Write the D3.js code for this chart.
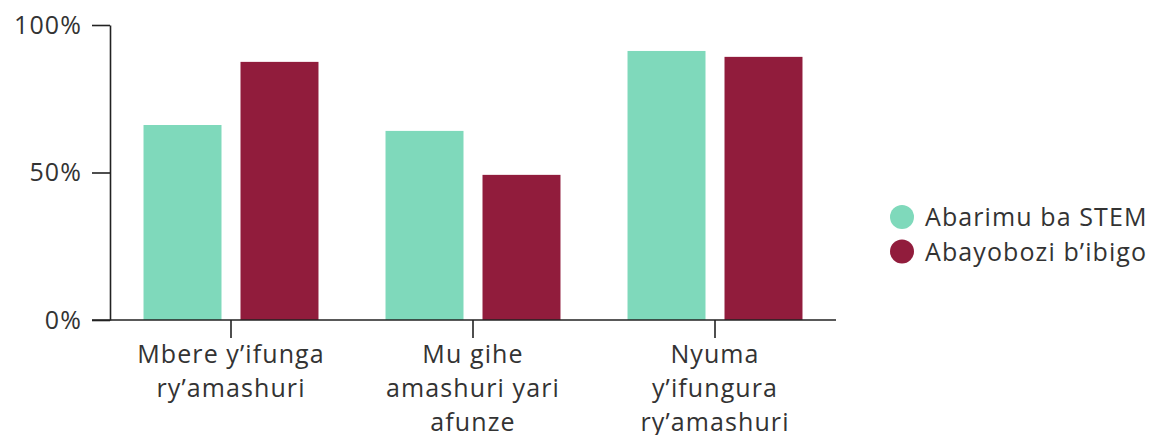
<!DOCTYPE html>
<html>
<head>
<meta charset="utf-8">
<script src="https://cdn.jsdelivr.net/npm/d3@7"></script>
<style>
  body { margin: 0; background: #fff; }
  text { font-family: "Open Sans", "Noto Sans", sans-serif; fill: #333; letter-spacing: 1.1px; }
</style>
</head>
<body>
<div id="chart"></div>
<script>
// categories, wrapped the way the reference shows them
const categories = ["before", "during", "after"];
const categoryLines = [
  ["Mbere y’ifunga", "ry’amashuri"],
  ["Mu gihe", "amashuri yari", "afunze"],
  ["Nyuma", "y’ifungura", "ry’amashuri"]
];
const seriesNames = ["Abarimu ba STEM", "Abayobozi b’ibigo"];
const seriesColors = ["#7fd9bb", "#911c3c"];
const stemValues = [66.1, 64.1, 91.2];
const leaderValues = [87.5, 49.2, 89.2];
const yTicks = [0, 50, 100];

const width = 1158, height = 435;
const x0 = 110, x1 = 836, yTop = 25, yBottom = 320;
const fontSize = 25;

const svg = d3.select("#chart").append("svg")
  .attr("width", width)
  .attr("height", height);

const x = d3.scaleBand()
  .domain(categories)
  .range([x0, x1])
  .paddingInner(0.277)
  .paddingOuter(0.1385);

const xInner = d3.scaleBand()
  .domain([0, 1])
  .range([0, x.bandwidth()])
  .paddingInner(0.196);

const y = d3.scaleLinear()
  .domain([0, 100])
  .range([yBottom, yTop]);

// BARS

const rows = categories.map((c, i) => ({ cat: c, values: [stemValues[i], leaderValues[i]] }));

svg.append("g").selectAll("g")
  .data(rows)
  .join("g")
    .attr("transform", d => `translate(${x(d.cat)},0)`)
  .selectAll("rect")
  .data(d => d.values.map((v, k) => ({ k: k, v: v })))
  .join("rect")
    .attr("x", d => xInner(d.k))
    .attr("y", d => y(d.v))
    .attr("width", xInner.bandwidth())
    .attr("height", d => y(0) - y(d.v))
    .attr("fill", d => seriesColors[d.k]);

// Y AXIS

const yAxis = svg.append("g")
  .attr("transform", `translate(${x0},0)`)
  .call(d3.axisLeft(y).tickValues(yTicks).tickFormat(d => d + "%").tickSize(18).tickSizeOuter(0).tickPadding(10));
yAxis.selectAll("line, path").attr("stroke", "#222").attr("stroke-width", 1.6);
yAxis.selectAll("text").style("font-size", fontSize + "px").attr("fill", "#333");

// X AXIS

const xAxis = svg.append("g")
  .attr("transform", `translate(0,${yBottom})`)
  .call(d3.axisBottom(x).tickSize(18).tickSizeOuter(0).tickFormat(""));
xAxis.select(".domain").attr("d", `M${x0 - 18},0H${x1}`);
xAxis.selectAll("line, path").attr("stroke", "#222").attr("stroke-width", 1.6);

xAxis.selectAll(".tick text").remove();
xAxis.selectAll(".tick").each(function(d, i) {
  const t = d3.select(this).append("text")
    .attr("text-anchor", "middle")
    .style("font-size", fontSize + "px")
    .attr("fill", "#333");
  categoryLines[i].forEach((line, j) => {
    t.append("tspan")
      .attr("x", 0)
      .attr("y", 43 + j * 34)
      .text(line);
  });
});

// LEGEND

const legend = svg.append("g")
  .attr("transform", "translate(902,217)");

const item = legend.selectAll("g")
  .data(seriesNames)
  .join("g")
    .attr("transform", (d, i) => `translate(0,${i * 34.5})`);

item.append("circle")
  .attr("r", 12)
  .attr("fill", (d, i) => seriesColors[i]);

item.append("text")
  .attr("x", 23)
  .attr("y", 9)
  .style("font-size", fontSize + "px")
  .text(d => d);
</script>
</body>
</html>
